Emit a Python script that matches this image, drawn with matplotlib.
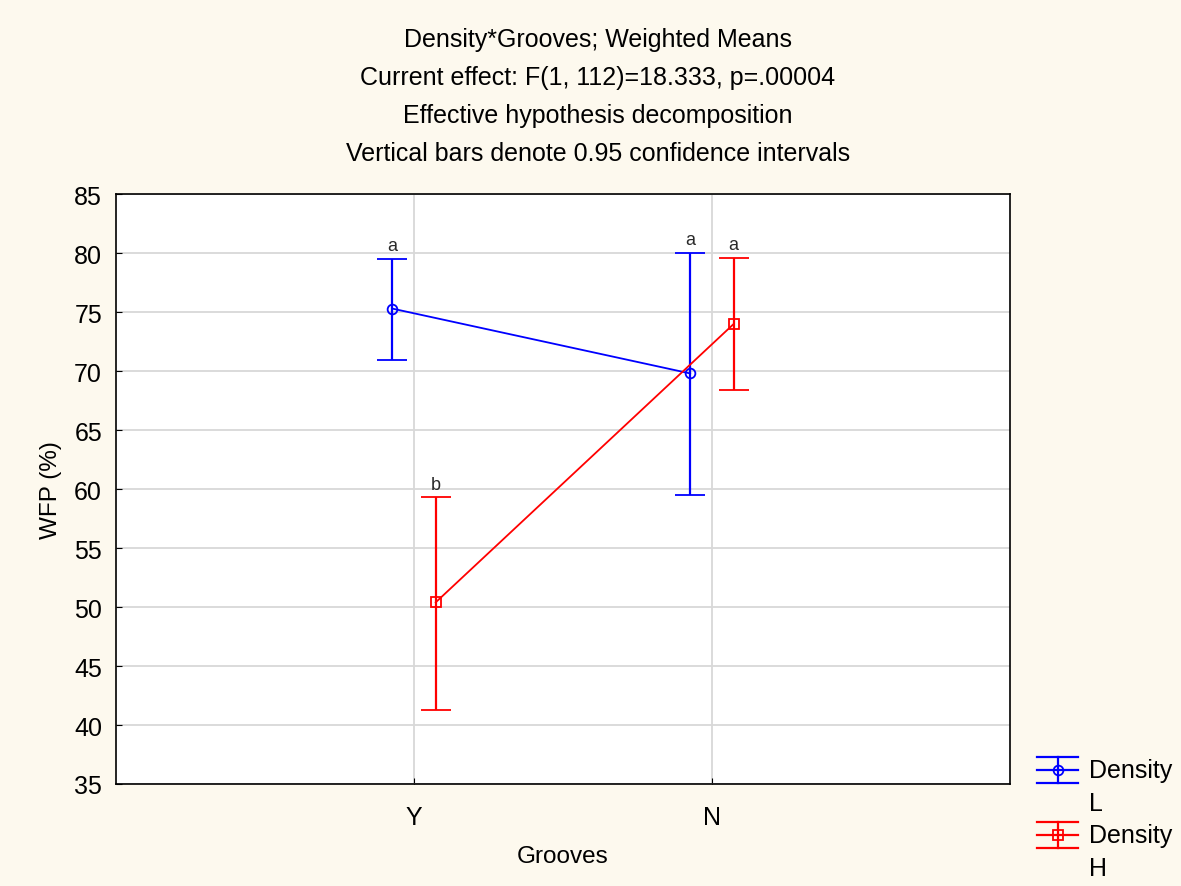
import matplotlib
matplotlib.use("Agg")
import matplotlib.pyplot as plt
from matplotlib.lines import Line2D

plt.rcParams['font.family'] = ['Liberation Sans', 'DejaVu Sans']

# data
grooves = ['Y', 'N']
mean_L = [75.3, 69.8]
low_L = [70.9, 59.5]
high_L = [79.5, 80.0]
mean_H = [50.4, 74.0]
low_H = [41.3, 68.4]
high_H = [59.3, 79.6]
letters_L = ['a', 'a']
letters_H = ['b', 'a']
title_lines = ['Density*Grooves; Weighted Means',
               'Current effect: F(1, 112)=18.333, p=.00004',
               'Effective hypothesis decomposition',
               'Vertical bars denote 0.95 confidence intervals']

bg = '#fdf9ee'
fig = plt.figure(figsize=(11.81, 8.87), dpi=100, facecolor=bg)
ax = fig.add_axes([0.0982, 0.115, 0.757, 0.665])
ax.set_facecolor('white')

x = [1, 2]
off = 0.073
xL = [v - off for v in x]
xH = [v + off for v in x]

def draw(xs, m, lo, hi, col, mk, letters):
    yerr = [[a - b for a, b in zip(m, lo)], [b - a for a, b in zip(m, hi)]]
    ax.errorbar(xs, m, yerr=yerr, color=col, lw=1.3, elinewidth=1.6,
                capsize=11, capthick=1.6, marker=mk, ms=7, mfc='none',
                mec=col, mew=1.3, zorder=3)
    for xi, h, t in zip(xs, hi, letters):
        ax.text(xi, h + 0.4, t, ha='center', va='bottom', fontsize=13,
                color='#2a2a2a')

draw(xL, mean_L, low_L, high_L, 'blue', 'o', letters_L)
draw(xH, mean_H, low_H, high_H, 'red', 's', letters_H)

ax.set_xlim(0, 3)
ax.set_ylim(35, 85)
ax.set_yticks(range(35, 90, 5))
ax.set_xticks(x)
ax.set_xticklabels(grooves)
ax.grid(True, color='#d8d8d8', lw=1.3, zorder=0)
ax.set_axisbelow(True)
ax.tick_params(direction='in', length=4, labelsize=18, color='black')
ax.tick_params(axis='y', pad=10)
ax.tick_params(axis='x', pad=15)
for s in ax.spines.values():
    s.set_color('black')
    s.set_linewidth(1.2)
ax.set_xlabel('Grooves', fontsize=17.5, labelpad=12)
ax.set_ylabel('WFP (%)', fontsize=17.5, labelpad=9)

for i, t in enumerate(title_lines):
    fig.text(0.506, 0.955 - i * 0.0428, t, ha='center', va='center', fontsize=18)

# legend drawn by hand
def leg_handle(yc, col, mk, label1, label2):
    x0, x1 = 1037 / 1181, 1078 / 1181
    xc = (x0 + x1) / 2
    d = 13 / 887
    for dy in (-d, 0, d):
        fig.add_artist(Line2D([x0, x1], [yc + dy, yc + dy], color=col, lw=1.6))
    fig.add_artist(Line2D([xc, xc], [yc - d, yc + d], color=col, lw=1.6))
    fig.add_artist(Line2D([xc], [yc], color=col, marker=mk, ms=7, mfc='none', mew=1.3))
    fig.text(1089 / 1181, yc, label1, ha='left', va='center', fontsize=18)
    fig.text(1089 / 1181, yc - 33 / 887, label2, ha='left', va='center', fontsize=18)

leg_handle(1 - 771 / 887, 'blue', 'o', 'Density', 'L')
leg_handle(1 - 836 / 887, 'red', 's', 'Density', 'H')

fig.savefig('out.png', dpi=100, facecolor=bg)
